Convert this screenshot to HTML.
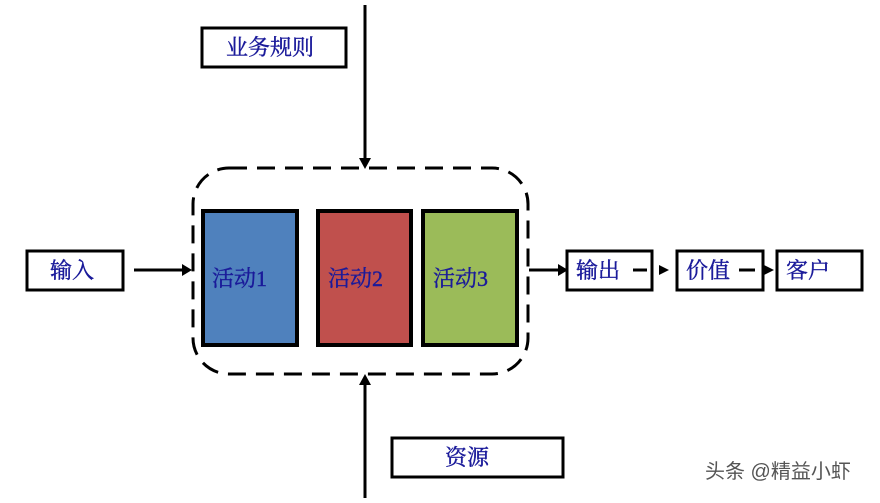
<!DOCTYPE html>
<html><head><meta charset="utf-8"><style>
body{margin:0;background:#fff;width:880px;height:498px;overflow:hidden}
</style></head><body>
<svg width="880" height="498" xmlns="http://www.w3.org/2000/svg" font-family="'Liberation Serif','Noto Serif CJK SC',serif">
<rect x="193" y="168" width="335" height="206" rx="36" fill="none" stroke="#000" stroke-width="3" stroke-dasharray="18,10"/>
<rect x="203" y="211" width="94" height="134" fill="#4f81bd" stroke="#000" stroke-width="4"/>
<rect x="318" y="211" width="93" height="134" fill="#c0504d" stroke="#000" stroke-width="4"/>
<rect x="423" y="211" width="94" height="134" fill="#9bbb59" stroke="#000" stroke-width="4"/>
<g fill="#1a1a9a" font-size="22" stroke="#1a1a9a" stroke-width="0.4">
<text x="212" y="286">活动1</text>
<text x="328" y="286">活动2</text>
<text x="433" y="286">活动3</text>
</g>
<g fill="#fff" stroke="#000" stroke-width="3">
<rect x="202" y="28" width="144" height="39"/>
<rect x="27" y="251" width="96" height="39"/>
<rect x="567" y="251" width="85" height="39"/>
<rect x="677" y="251" width="86" height="39"/>
<rect x="777" y="251" width="85" height="39"/>
<rect x="392" y="438" width="171" height="39"/>
</g>
<g fill="#1a1a9a" font-size="22" stroke="#1a1a9a" stroke-width="0.4">
<text x="226" y="55">业务规则</text>
<text x="50" y="278">输入</text>
<text x="576" y="278">输出</text>
<text x="686" y="278">价值</text>
<text x="786" y="278">客户</text>
<text x="445" y="465">资源</text>
</g>
<g stroke="#000" stroke-width="3">
<line x1="365" y1="5" x2="365" y2="160"/>
<line x1="365" y1="385" x2="365" y2="498"/>
<line x1="134" y1="270" x2="184" y2="270"/>
<line x1="529" y1="270" x2="560" y2="270"/>
<line x1="633" y1="270" x2="647" y2="270"/>
<line x1="739" y1="270" x2="755" y2="270"/>
</g>
<g fill="#000">
<polygon points="359,158 371,158 365,169"/>
<polygon points="359,385 371,385 365,374"/>
<polygon points="182,264 182,276 192,270"/>
<polygon points="558,264 558,276 568,270"/>
<polygon points="659,265 659,275 669,270"/>
<polygon points="764,265 764,275 774,270"/>
</g>
<text x="705" y="478" fill="#555" font-size="20" font-family="'Liberation Sans','Noto Sans CJK SC',sans-serif">头条 @精益小虾</text>
</svg>
</body></html>
